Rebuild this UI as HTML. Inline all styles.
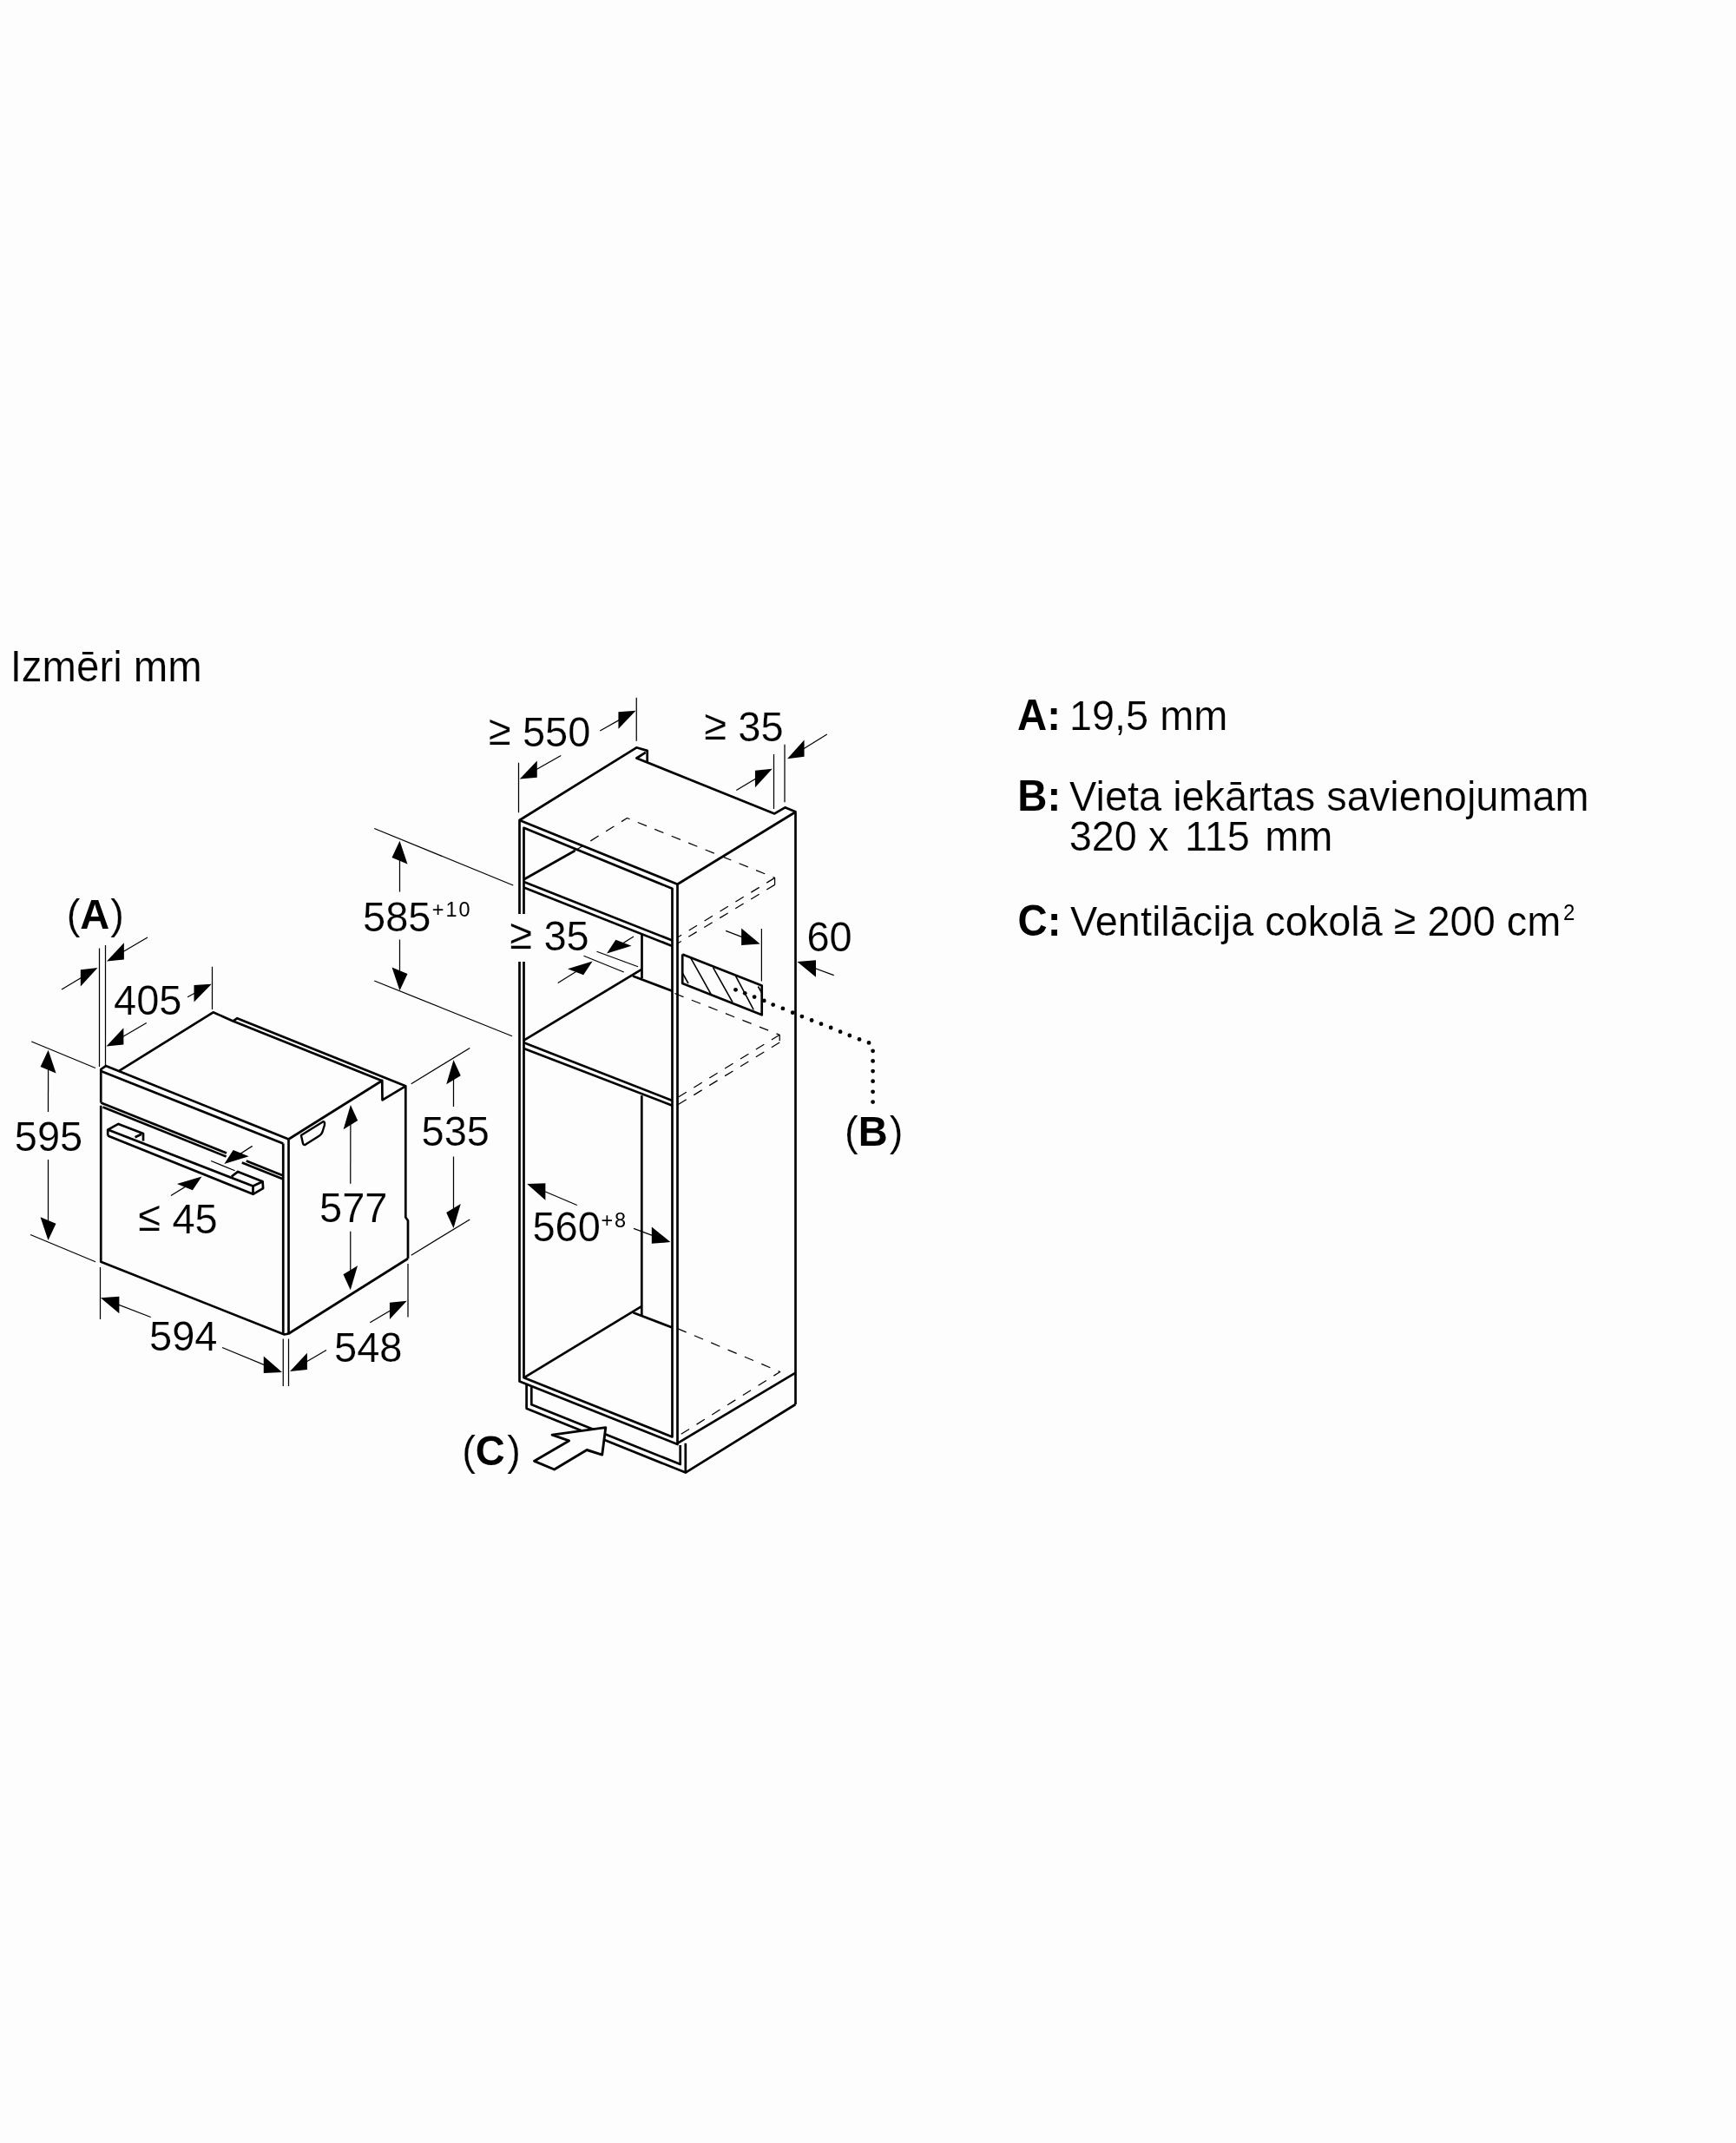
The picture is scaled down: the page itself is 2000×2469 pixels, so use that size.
<!DOCTYPE html>
<html><head><meta charset="utf-8"><style>
html,body{margin:0;padding:0;background:#fdfdfd;}
svg{display:block;will-change:transform;}
text{font-family:"Liberation Sans",sans-serif;fill:#000;stroke:#fdfdfd;stroke-width:0.2px;}
text.sup{stroke:none;}
</style></head><body>
<svg width="2000" height="2469" viewBox="0 0 2000 2469">
<g fill="none" stroke="#000" stroke-linejoin="round" stroke-linecap="butt">
<polyline points="116.25,1270.50 116.25,1232.00 121.90,1228.10 332.50,1312.50" stroke-width="2.7" />
<polyline points="116.25,1234.00 326.25,1317.50" stroke-width="2.7" />
<polyline points="326.25,1317.50 326.25,1537.50" stroke-width="2.7" />
<polyline points="332.50,1312.50 332.50,1536.50" stroke-width="2.7" />
<polyline points="116.25,1273.75 116.25,1453.75 327.50,1537.50 332.50,1536.50 470.00,1450.00" stroke-width="2.7" />
<polyline points="332.50,1312.50 440.25,1245.00 440.50,1267.30 467.30,1251.30 467.30,1402.50 470.00,1406.25 470.00,1450.00" stroke-width="2.7" />
<polyline points="137.50,1233.60 245.60,1166.30 268.60,1176.40 440.25,1245.20" stroke-width="2.7" />
<polyline points="268.60,1176.40 273.30,1173.20 467.30,1251.30" stroke-width="2.7" />
<polyline points="116.25,1270.50 261.00,1328.50" stroke-width="2.7" />
<polyline points="283.75,1337.50 326.25,1354.50" stroke-width="2.7" />
<polyline points="118.50,1275.50 260.60,1332.50" stroke-width="2.7" />
<polyline points="278.75,1339.50 326.25,1358.50" stroke-width="2.7" />
<polyline points="124.20,1308.50 124.20,1301.60 136.40,1294.90 165.00,1306.00 165.00,1314.50" stroke-width="2.7" />
<polyline points="162.90,1306.70 155.60,1310.30" stroke-width="2.7" />
<polyline points="124.20,1301.60 291.50,1366.50 291.50,1375.80 124.20,1308.50" stroke-width="2.7" />
<polyline points="266.80,1355.50 274.10,1349.90 302.60,1361.30 303.10,1369.10 291.50,1375.80" stroke-width="2.7" />
<polyline points="291.50,1366.50 302.60,1361.30" stroke-width="2.7" />
<path d="M346.9,1308.1 L372.7,1292.1 Q374.6,1292.6 373.8,1296.5 L371.5,1304 Q370.5,1307 368,1308.5 L351.8,1318.8 Q349.6,1319.6 349,1317.2 Z" stroke-width="2.4"/>
<line x1="114.50" y1="1092.50" x2="114.50" y2="1229.00" stroke-width="1.25" />
<line x1="121.50" y1="1089.00" x2="121.50" y2="1227.00" stroke-width="1.25" />
<polygon points="112.50,1115.00 92.80,1136.57 92.80,1117.17" fill="#000" stroke="none"/>
<line x1="102.65" y1="1120.93" x2="71.00" y2="1140.00" stroke-width="1.25" />
<polygon points="123.00,1107.50 142.85,1105.58 142.85,1086.18" fill="#000" stroke="none"/>
<line x1="132.93" y1="1101.69" x2="170.00" y2="1080.00" stroke-width="1.25" />
<line x1="244.50" y1="1113.75" x2="244.50" y2="1163.00" stroke-width="1.25" />
<polygon points="243.75,1133.75 223.52,1154.39 223.52,1134.99" fill="#000" stroke="none"/>
<line x1="233.63" y1="1139.22" x2="216.00" y2="1148.75" stroke-width="1.25" />
<polygon points="122.50,1205.50 142.36,1203.60 142.36,1184.20" fill="#000" stroke="none"/>
<line x1="132.43" y1="1199.70" x2="168.75" y2="1178.50" stroke-width="1.25" />
<line x1="36.25" y1="1200.00" x2="110.00" y2="1230.50" stroke-width="1.25" />
<line x1="35.00" y1="1422.50" x2="110.00" y2="1453.75" stroke-width="1.25" />
<polygon points="55.60,1209.70 64.54,1236.38 46.59,1229.02" fill="#000" stroke="none"/>
<line x1="55.58" y1="1221.20" x2="55.50" y2="1281.00" stroke-width="1.25" />
<polygon points="55.50,1429.00 64.47,1409.68 46.53,1402.32" fill="#000" stroke="none"/>
<line x1="55.50" y1="1417.50" x2="55.50" y2="1336.00" stroke-width="1.25" />
<line x1="115.50" y1="1460.00" x2="115.50" y2="1520.00" stroke-width="1.25" />
<polygon points="115.90,1495.30 137.37,1513.25 137.37,1493.85" fill="#000" stroke="none"/>
<line x1="126.64" y1="1499.42" x2="173.70" y2="1517.50" stroke-width="1.25" />
<polygon points="325.00,1581.00 303.74,1581.92 303.74,1562.52" fill="#000" stroke="none"/>
<line x1="314.37" y1="1576.61" x2="256.00" y2="1552.50" stroke-width="1.25" />
<line x1="326.25" y1="1542.50" x2="326.25" y2="1597.00" stroke-width="1.25" />
<line x1="332.50" y1="1542.50" x2="332.50" y2="1597.00" stroke-width="1.25" />
<polygon points="334.00,1580.00 353.87,1578.11 353.87,1558.71" fill="#000" stroke="none"/>
<line x1="343.93" y1="1574.21" x2="376.00" y2="1555.50" stroke-width="1.25" />
<line x1="470.00" y1="1456.00" x2="470.00" y2="1517.50" stroke-width="1.25" />
<polygon points="468.75,1498.75 448.93,1520.11 448.93,1500.71" fill="#000" stroke="none"/>
<line x1="458.84" y1="1504.58" x2="426.25" y2="1523.75" stroke-width="1.25" />
<polygon points="403.90,1273.10 412.12,1291.01 395.61,1301.19" fill="#000" stroke="none"/>
<line x1="403.88" y1="1284.60" x2="403.75" y2="1363.75" stroke-width="1.25" />
<polygon points="403.75,1486.25 412.01,1458.16 395.49,1468.34" fill="#000" stroke="none"/>
<line x1="403.75" y1="1474.75" x2="403.75" y2="1418.75" stroke-width="1.25" />
<line x1="473.75" y1="1248.75" x2="541.25" y2="1207.50" stroke-width="1.25" />
<line x1="473.75" y1="1446.25" x2="541.25" y2="1405.00" stroke-width="1.25" />
<polygon points="522.50,1221.25 530.78,1239.20 514.22,1249.30" fill="#000" stroke="none"/>
<line x1="522.50" y1="1232.75" x2="522.50" y2="1275.00" stroke-width="1.25" />
<polygon points="522.50,1415.00 530.78,1386.95 514.22,1397.05" fill="#000" stroke="none"/>
<line x1="522.50" y1="1403.50" x2="522.50" y2="1332.50" stroke-width="1.25" />
<polygon points="258.30,1341.10 286.67,1332.36 268.69,1325.08" fill="#000" stroke="none"/>
<line x1="267.99" y1="1334.91" x2="290.70" y2="1320.40" stroke-width="1.25" />
<line x1="243.10" y1="1337.50" x2="270.60" y2="1348.75" stroke-width="1.25" />
<polygon points="232.50,1355.60 221.90,1371.29 203.92,1364.01" fill="#000" stroke="none"/>
<line x1="222.70" y1="1361.63" x2="196.90" y2="1377.50" stroke-width="1.25" />
<polyline points="598.50,1053.00 598.50,945.00 733.30,861.30 745.70,864.90 745.70,878.40" stroke-width="2.7" />
<polyline points="743.80,866.90 733.40,873.50 892.30,937.40 904.40,930.30 916.50,935.30 916.50,1618.00" stroke-width="2.7" />
<polyline points="598.50,945.00 780.50,1018.75 916.50,935.50" stroke-width="2.7" />
<polyline points="603.50,1053.00 603.50,953.75 774.50,1023.75 774.50,1655.50 603.50,1587.30 603.50,1108.00" stroke-width="2.7" />
<polyline points="598.50,1108.00 598.50,1591.40 780.50,1664.00 780.50,1018.75" stroke-width="2.7" />
<polyline points="780.50,1662.80 916.50,1581.70" stroke-width="2.7" />
<polyline points="606.60,1595.00 606.60,1622.80 789.80,1696.60 916.50,1618.00" stroke-width="2.7" />
<polyline points="789.80,1662.80 789.80,1696.60" stroke-width="2.7" />
<polyline points="612.30,1597.60 612.30,1618.30 783.70,1687.00 783.70,1665.00" stroke-width="2.7" />
<polyline points="603.50,1015.90 774.50,1083.50" stroke-width="2.7" />
<polyline points="603.50,1022.50 774.50,1090.00" stroke-width="2.7" />
<polyline points="603.50,1013.20 662.50,980.00" stroke-width="2.7" />
<polyline points="739.50,1077.00 739.50,1127.00" stroke-width="2.7" />
<polyline points="739.60,1116.60 603.50,1198.70" stroke-width="2.7" />
<polyline points="729.00,1124.50 774.50,1141.80" stroke-width="2.7" />
<polyline points="603.50,1201.20 774.50,1268.00" stroke-width="2.7" />
<polyline points="603.50,1208.00 774.50,1273.70" stroke-width="2.7" />
<polyline points="739.30,1262.20 739.30,1515.70" stroke-width="2.7" />
<polyline points="603.50,1587.30 738.60,1505.30" stroke-width="2.7" />
<polyline points="729.40,1512.20 774.50,1529.50" stroke-width="2.7" />
<polyline points="662.50,980.00 722.50,942.50 892.60,1011.40 892.60,1019.40" stroke-width="1.25" stroke-dasharray="11 10"/>
<polyline points="892.60,1011.40 780.50,1080.00" stroke-width="1.25" stroke-dasharray="11 10"/>
<polyline points="892.60,1019.40 780.50,1087.00" stroke-width="1.25" stroke-dasharray="11 10"/>
<polyline points="777.30,1144.50 898.20,1192.30 898.20,1201.00" stroke-width="1.25" stroke-dasharray="11 10"/>
<polyline points="898.20,1192.30 780.50,1264.60" stroke-width="1.25" stroke-dasharray="11 10"/>
<polyline points="898.20,1201.00 780.50,1273.10" stroke-width="1.25" stroke-dasharray="11 10"/>
<polyline points="780.50,1530.60 898.70,1580.50 780.50,1655.00" stroke-width="1.25" stroke-dasharray="11 10"/>
<polyline points="786.20,1099.40 786.20,1133.00 877.70,1169.30 877.70,1135.60 786.20,1099.40" stroke-width="2.7" />
<line x1="795.70" y1="1103.70" x2="819.00" y2="1145.20" stroke-width="1.6" />
<line x1="821.60" y1="1114.90" x2="844.00" y2="1154.70" stroke-width="1.6" />
<line x1="847.50" y1="1124.40" x2="868.20" y2="1163.30" stroke-width="1.6" />
<line x1="873.40" y1="1136.50" x2="877.70" y2="1144.00" stroke-width="1.6" />
<line x1="786.20" y1="1121.00" x2="793.00" y2="1133.00" stroke-width="1.6" />
<circle cx="847.5" cy="1140.3" r="2.4" fill="#000" stroke="none"/>
<circle cx="858.2" cy="1144.3" r="2.4" fill="#000" stroke="none"/>
<circle cx="869.1" cy="1148.6" r="2.4" fill="#000" stroke="none"/>
<circle cx="880.3" cy="1152.9" r="2.4" fill="#000" stroke="none"/>
<circle cx="890.7" cy="1157.6" r="2.4" fill="#000" stroke="none"/>
<circle cx="901.9" cy="1161.9" r="2.4" fill="#000" stroke="none"/>
<circle cx="913.2" cy="1166.7" r="2.4" fill="#000" stroke="none"/>
<circle cx="923.9" cy="1171.1" r="2.4" fill="#000" stroke="none"/>
<circle cx="935.1" cy="1175.5" r="2.4" fill="#000" stroke="none"/>
<circle cx="946" cy="1179.7" r="2.4" fill="#000" stroke="none"/>
<circle cx="957.2" cy="1184" r="2.4" fill="#000" stroke="none"/>
<circle cx="968.1" cy="1188.7" r="2.4" fill="#000" stroke="none"/>
<circle cx="978.8" cy="1193" r="2.4" fill="#000" stroke="none"/>
<circle cx="990" cy="1197.4" r="2.4" fill="#000" stroke="none"/>
<circle cx="1001" cy="1201.4" r="2.4" fill="#000" stroke="none"/>
<circle cx="1005.6" cy="1210.8" r="2.4" fill="#000" stroke="none"/>
<circle cx="1005.6" cy="1222.4" r="2.4" fill="#000" stroke="none"/>
<circle cx="1005.6" cy="1234.1" r="2.4" fill="#000" stroke="none"/>
<circle cx="1005.6" cy="1245.7" r="2.4" fill="#000" stroke="none"/>
<circle cx="1005.6" cy="1257.8" r="2.4" fill="#000" stroke="none"/>
<circle cx="1005.6" cy="1269.6" r="2.4" fill="#000" stroke="none"/>
<line x1="733.25" y1="803.75" x2="733.25" y2="853.75" stroke-width="1.25" />
<line x1="597.50" y1="878.75" x2="597.50" y2="936.25" stroke-width="1.25" />
<polygon points="732.50,818.75 712.46,839.74 712.46,820.34" fill="#000" stroke="none"/>
<line x1="722.48" y1="824.40" x2="691.25" y2="842.00" stroke-width="1.25" />
<polygon points="598.75,897.50 618.75,895.83 618.75,876.43" fill="#000" stroke="none"/>
<line x1="608.75" y1="891.82" x2="646.25" y2="870.50" stroke-width="1.25" />
<line x1="891.50" y1="869.00" x2="891.50" y2="932.00" stroke-width="1.25" />
<line x1="904.00" y1="857.80" x2="904.00" y2="924.30" stroke-width="1.25" />
<polygon points="889.70,885.75 869.96,907.25 869.96,887.85" fill="#000" stroke="none"/>
<line x1="879.83" y1="891.65" x2="848.30" y2="910.50" stroke-width="1.25" />
<polygon points="907.00,874.20 926.59,871.84 926.59,852.44" fill="#000" stroke="none"/>
<line x1="916.79" y1="868.17" x2="952.80" y2="846.00" stroke-width="1.25" />
<line x1="431.25" y1="954.50" x2="591.25" y2="1020.00" stroke-width="1.25" />
<line x1="431.25" y1="1130.00" x2="590.00" y2="1193.75" stroke-width="1.25" />
<polygon points="460.50,968.75 469.47,995.43 451.53,988.07" fill="#000" stroke="none"/>
<line x1="460.50" y1="980.25" x2="460.50" y2="1027.50" stroke-width="1.25" />
<polygon points="460.50,1141.25 469.47,1121.93 451.53,1114.57" fill="#000" stroke="none"/>
<line x1="460.50" y1="1129.75" x2="460.50" y2="1082.50" stroke-width="1.25" />
<line x1="687.50" y1="1096.25" x2="735.00" y2="1113.75" stroke-width="1.25" />
<line x1="672.50" y1="1101.25" x2="718.75" y2="1120.00" stroke-width="1.25" />
<polygon points="699.00,1098.50 727.54,1089.70 709.40,1082.81" fill="#000" stroke="none"/>
<line x1="708.73" y1="1092.38" x2="730.00" y2="1079.00" stroke-width="1.25" />
<polygon points="682.60,1107.60 672.16,1123.22 654.02,1116.33" fill="#000" stroke="none"/>
<line x1="672.84" y1="1113.69" x2="642.70" y2="1132.50" stroke-width="1.25" />
<line x1="877.40" y1="1070.00" x2="877.40" y2="1130.50" stroke-width="1.25" />
<polygon points="875.60,1087.60 854.15,1088.99 854.15,1069.59" fill="#000" stroke="none"/>
<line x1="864.88" y1="1083.45" x2="836.10" y2="1072.30" stroke-width="1.25" />
<polygon points="918.40,1108.00 939.98,1125.66 939.98,1106.26" fill="#000" stroke="none"/>
<line x1="929.19" y1="1111.98" x2="960.70" y2="1123.60" stroke-width="1.25" />
<polygon points="607.20,1364.00 628.36,1382.70 628.36,1363.30" fill="#000" stroke="none"/>
<line x1="617.78" y1="1368.50" x2="664.80" y2="1388.50" stroke-width="1.25" />
<polygon points="772.40,1431.10 750.83,1432.81 750.83,1413.41" fill="#000" stroke="none"/>
<line x1="761.62" y1="1427.11" x2="730.00" y2="1415.40" stroke-width="1.25" />
<polygon points="697.8,1644.6 636.1,1653.1 655.5,1659.9 615.6,1683.3 638.6,1693 676.1,1670.5 693.7,1676.1" fill="#fdfdfd" stroke-width="2.9"/>
<text transform="translate(11.70,784.50) scale(1,1.04)" x="0" y="0" font-size="47.4" >Izmēri mm</text>
<text transform="translate(76.65,1069.50) scale(1,1.04)" x="0" y="0" font-size="47.0" >(<tspan font-weight="bold" style="stroke:none">A</tspan><tspan dx="1">)</tspan></text>
<text transform="translate(131.10,1168.75) scale(1,1.04)" x="0" y="0" font-size="47.0" >405</text>
<text transform="translate(16.85,1326.00) scale(1,1.04)" x="0" y="0" font-size="47.0" >595</text>
<text transform="translate(159.60,1420.50) scale(1,1.04)" x="0" y="0" font-size="47.0" ><tspan dy="-2">≤</tspan><tspan dy="2"> 45</tspan></text>
<text transform="translate(368.10,1407.50) scale(1,1.04)" x="0" y="0" font-size="47.0" >577</text>
<text transform="translate(485.60,1319.50) scale(1,1.04)" x="0" y="0" font-size="47.0" >535</text>
<text transform="translate(172.10,1556.00) scale(1,1.04)" x="0" y="0" font-size="47.0" >594</text>
<text transform="translate(385.10,1568.75) scale(1,1.04)" x="0" y="0" font-size="47.0" >548</text>
<text transform="translate(563.10,860.00) scale(1,1.04)" x="0" y="0" font-size="47.0" ><tspan dy="-1.5">≥</tspan><tspan dy="1.5"> 550</tspan></text>
<text transform="translate(811.40,854.00) scale(1,1.04)" x="0" y="0" font-size="47.0" ><tspan dy="-1.5">≥</tspan><tspan dy="1.5"> 35</tspan></text>
<text transform="translate(418.10,1072.50) scale(1,1.04)" x="0" y="0" font-size="47.0" >585</text>
<text transform="translate(497.70,1056.20) scale(1,1.04)" x="0" y="0" font-size="23.5" class="sup" letter-spacing="2">+10</text>
<text transform="translate(587.60,1094.50) scale(1,1.04)" x="0" y="0" font-size="47.0" ><tspan dy="-1.5">≥</tspan><tspan dy="1.5"> 35</tspan></text>
<text transform="translate(929.40,1095.90) scale(1,1.04)" x="0" y="0" font-size="47.0" >60</text>
<text transform="translate(613.40,1430.40) scale(1,1.04)" x="0" y="0" font-size="47.0" >560</text>
<text transform="translate(692.40,1414.30) scale(1,1.04)" x="0" y="0" font-size="23.5" class="sup" letter-spacing="2">+8</text>
<text transform="translate(973.05,1319.80) scale(1,1.04)" x="0" y="0" font-size="47.0" >(<tspan font-weight="bold" style="stroke:none">B</tspan><tspan dx="2">)</tspan></text>
<text transform="translate(532.15,1688.20) scale(1,1.04)" x="0" y="0" font-size="47.0" >(<tspan font-weight="bold" style="stroke:none">C</tspan><tspan dx="2.5">)</tspan></text>
<text transform="translate(1172.10,841.20) scale(1,1.04)" x="0" y="0" font-size="47.3" font-weight="bold" style="stroke:none" >A:</text>
<text transform="translate(1231.90,841.20) scale(1,1.04)" x="0" y="0" font-size="46.9" >19,5 mm</text>
<text transform="translate(1172.30,933.50) scale(1,1.04)" x="0" y="0" font-size="47.3" font-weight="bold" style="stroke:none" >B:</text>
<text transform="translate(1232.10,933.50) scale(1,1.04)" x="0" y="0" font-size="46.9" >Vieta iekārtas savienojumam</text>
<text transform="translate(1231.70,980.10) scale(1,1.04)" x="0" y="0" font-size="46.9" >320 x</text>
<text transform="translate(1365.10,980.10) scale(1,1.04)" x="0" y="0" font-size="46.9" >115</text>
<text transform="translate(1457.20,980.10) scale(1,1.04)" x="0" y="0" font-size="46.9" >mm</text>
<text transform="translate(1172.50,1077.60) scale(1,1.04)" x="0" y="0" font-size="47.3" font-weight="bold" style="stroke:none" >C:</text>
<text transform="translate(1233.10,1077.60) scale(1,1.04)" x="0" y="0" font-size="46.9" >Ventilācija cokolā <tspan dy="-1.5">≥</tspan><tspan dy="1.5"> 200 cm</tspan></text>
<text transform="translate(1801.10,1060.40) scale(1,1.04)" x="0" y="0" font-size="24" class="sup">2</text>
</g>
</svg>
</body></html>
